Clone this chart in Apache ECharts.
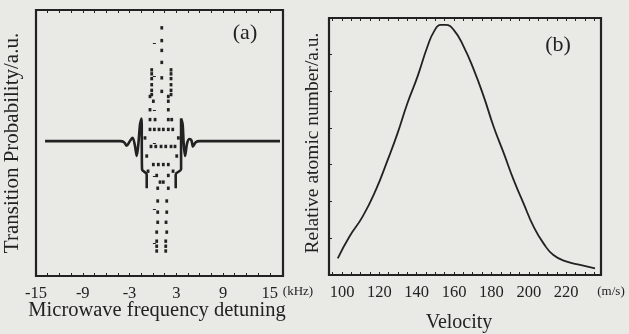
<!DOCTYPE html>
<html><head><meta charset="utf-8">
<script src="https://cdn.jsdelivr.net/npm/echarts@6/dist/echarts.min.js"></script>
<style>html,body{margin:0;padding:0;background:#e9e9e6;}#c{width:629px;height:334px;}</style>
</head><body><div id="c"></div>
<script>
// Panel (a): microwave detuning (kHz) vs transition probability (a.u.)
const aTickLabels = [-15, -9, -3, 3, 9, 15];
const aLineLeft = [[-13.84,0.507],[-4.2,0.507],[-3.7,0.503],[-3.36,0.49],[-3.0,0.505],[-2.6,0.52],[-2.3,0.49],[-2.07,0.451],[-1.85,0.50],[-1.65,0.57],[-1.46,0.592],[-1.39,0.401],[-0.79,0.382],[-0.79,0.33]];
const aLineRight = [[2.93,0.33],[2.93,0.382],[3.62,0.401],[3.62,0.592],[3.82,0.57],[3.95,0.50],[4.13,0.451],[4.4,0.50],[4.7,0.515],[4.95,0.51],[5.15,0.487],[5.5,0.503],[6.0,0.507],[16.32,0.507]];
const aDots = [
 [1.14,0.933],[1.14,0.885],[1.14,0.848],[1.14,0.803],[1.14,0.745],[1.14,0.694],
 [-0.15,0.775],[2.33,0.775],[-0.15,0.760],[2.33,0.760],[-0.15,0.742],[2.33,0.742],
 [-0.15,0.719],[2.33,0.719],[-0.15,0.698],[2.33,0.698],[-0.15,0.682],[2.33,0.682],
 [-0.37,0.675],[1.98,0.675],[0.06,0.657],[1.98,0.657],[-0.37,0.625],[1.98,0.625],
 [-0.37,0.588],[0.28,0.588],[1.98,0.588],[2.42,0.588],
 [-0.37,0.551],[0.19,0.551],[0.79,0.551],[1.34,0.551],[1.98,0.551],[2.55,0.551],
 [-1.01,0.519],[3.27,0.519],
 [-0.24,0.487],[0.37,0.487],[1.05,0.487],[1.65,0.487],[2.33,0.487],[2.84,0.487],
 [-0.79,0.451],[3.06,0.451],
 [0.06,0.419],[0.70,0.419],[1.34,0.419],[1.98,0.419],
 [-0.62,0.394],[2.59,0.394],
 [0.49,0.378],[1.98,0.378],[0.92,0.353],[1.34,0.353],[0.62,0.330],[1.98,0.330],
 [0.62,0.282],[1.78,0.282],[0.62,0.240],[1.78,0.240],[0.62,0.202],[1.69,0.202],
 [0.49,0.165],[1.78,0.165],[0.49,0.131],[1.65,0.131],[0.49,0.112],[1.65,0.112],[0.49,0.094],[1.65,0.094]
];
// Panel (b): velocity (m/s) vs relative atomic number (a.u.)
const bTickLabels = [100, 120, 140, 160, 180, 200, 220];
const bVelocity = [97.7,103.9,111.0,118.1,124.4,129.7,135.0,140.4,145.7,149.2,152.8,155.5,159.9,165.2,170.6,175.9,181.2,186.6,191.9,197.2,202.6,207.9,213.2,220.4,227.5,235.5];
const bNumber = [0.065,0.149,0.227,0.331,0.447,0.551,0.668,0.772,0.888,0.947,0.973,0.973,0.953,0.888,0.798,0.694,0.577,0.474,0.370,0.279,0.188,0.123,0.078,0.052,0.039,0.026];

const ink = '#222222';
const serif = '"Liberation Serif", "DejaVu Serif", serif';
function range(a, b, s){const r=[];for(let v=a;v<=b+1e-9;v+=s)r.push(+v.toFixed(3));return r;}

const chart = echarts.init(document.getElementById('c'), null, {renderer:'canvas'});
const lblStyle = {color: ink, fontFamily: serif, fontSize: 16.5};
function xAx(gi, min, max, labels, ticks, top){
  return {type:'value', gridIndex:gi, min:min, max:max, position: top?'top':'bottom',
    axisLine:{show:false},
    axisTick:{show:true, inside:true, length:3, customValues:ticks, lineStyle:{color:ink,width:1}},
    axisLabel: top?{show:false}:Object.assign({show:true, margin:9, customValues:labels}, lblStyle),
    splitLine:{show:false}};
}
function yAx(gi, ticks){
  return {type:'value', gridIndex:gi, min:0, max:1,
    axisLine:{show:false},
    axisTick:{show:true, inside:true, length:3, customValues:ticks, lineStyle:{color:ink,width:1}},
    axisLabel:{show:false}, splitLine:{show:false}};
}
const option = {
  backgroundColor:'#e9e9e6',
  animation:false,
  grid:[
    {left:36, top:10, width:247, height:266, show:true, borderColor:ink, borderWidth:2.2, backgroundColor:'transparent'},
    {left:329, top:18, width:272, height:257, show:true, borderColor:ink, borderWidth:2.2, backgroundColor:'transparent'}
  ],
  xAxis:[
    xAx(0, -15, 16.7, aTickLabels, range(-13.5, 15, 1.5), false),
    xAx(0, -15, 16.7, aTickLabels, range(-13.5, 15, 1.5), true),
    xAx(1, 93, 238.7, bTickLabels, range(95, 235, 5), false),
    xAx(1, 93, 238.7, bTickLabels, range(95, 235, 5), true)
  ],
  yAxis:[ yAx(0, range(0.125, 0.875, 0.125)), yAx(1, range(0.143, 0.858, 0.143)) ],
  series:[
    {type:'line', xAxisIndex:0, yAxisIndex:0, data:aLineLeft, showSymbol:false, smooth:0.3, lineStyle:{color:ink, width:2.6}},
    {type:'line', xAxisIndex:0, yAxisIndex:0, data:aLineRight, showSymbol:false, smooth:0.3, lineStyle:{color:ink, width:2.6}},
    {type:'scatter', xAxisIndex:0, yAxisIndex:0, data:aDots, symbol:'rect', symbolSize:[2.8,3.4], itemStyle:{color:ink, opacity:1}},
    {type:'line', xAxisIndex:2, yAxisIndex:1, data:bVelocity.map((v,i)=>[v,bNumber[i]]), showSymbol:false, smooth:true, lineStyle:{color:ink, width:1.8}}
  ],
  graphic:[
    {type:'text', x:245, y:33, style:{text:'(a)', font:'22px '+serif, fill:ink, align:'center', verticalAlign:'middle'}},
    {type:'text', x:558, y:45, style:{text:'(b)', font:'22px '+serif, fill:ink, align:'center', verticalAlign:'middle'}},
    {type:'text', x:12, y:143, rotation:Math.PI/2, style:{text:'Transition Probability/a.u.', font:'21px '+serif, fill:ink, align:'center', verticalAlign:'middle'}},
    {type:'text', x:313, y:143, rotation:Math.PI/2, style:{text:'Relative atomic number/a.u.', font:'19.5px '+serif, fill:ink, align:'center', verticalAlign:'middle'}},
    {type:'text', x:157, y:311, style:{text:'Microwave frequency detuning', font:'20.5px '+serif, fill:ink, align:'center', verticalAlign:'middle'}},
    {type:'text', x:459, y:323, style:{text:'Velocity', font:'20px '+serif, fill:ink, align:'center', verticalAlign:'middle'}},
    {type:'text', x:298, y:292, style:{text:'(kHz)', font:'13px '+serif, fill:ink, align:'center', verticalAlign:'middle'}},
    {type:'text', x:611, y:292, style:{text:'(m/s)', font:'13px '+serif, fill:ink, align:'center', verticalAlign:'middle'}}
  ]
};
chart.setOption(option);
</script></body></html>
